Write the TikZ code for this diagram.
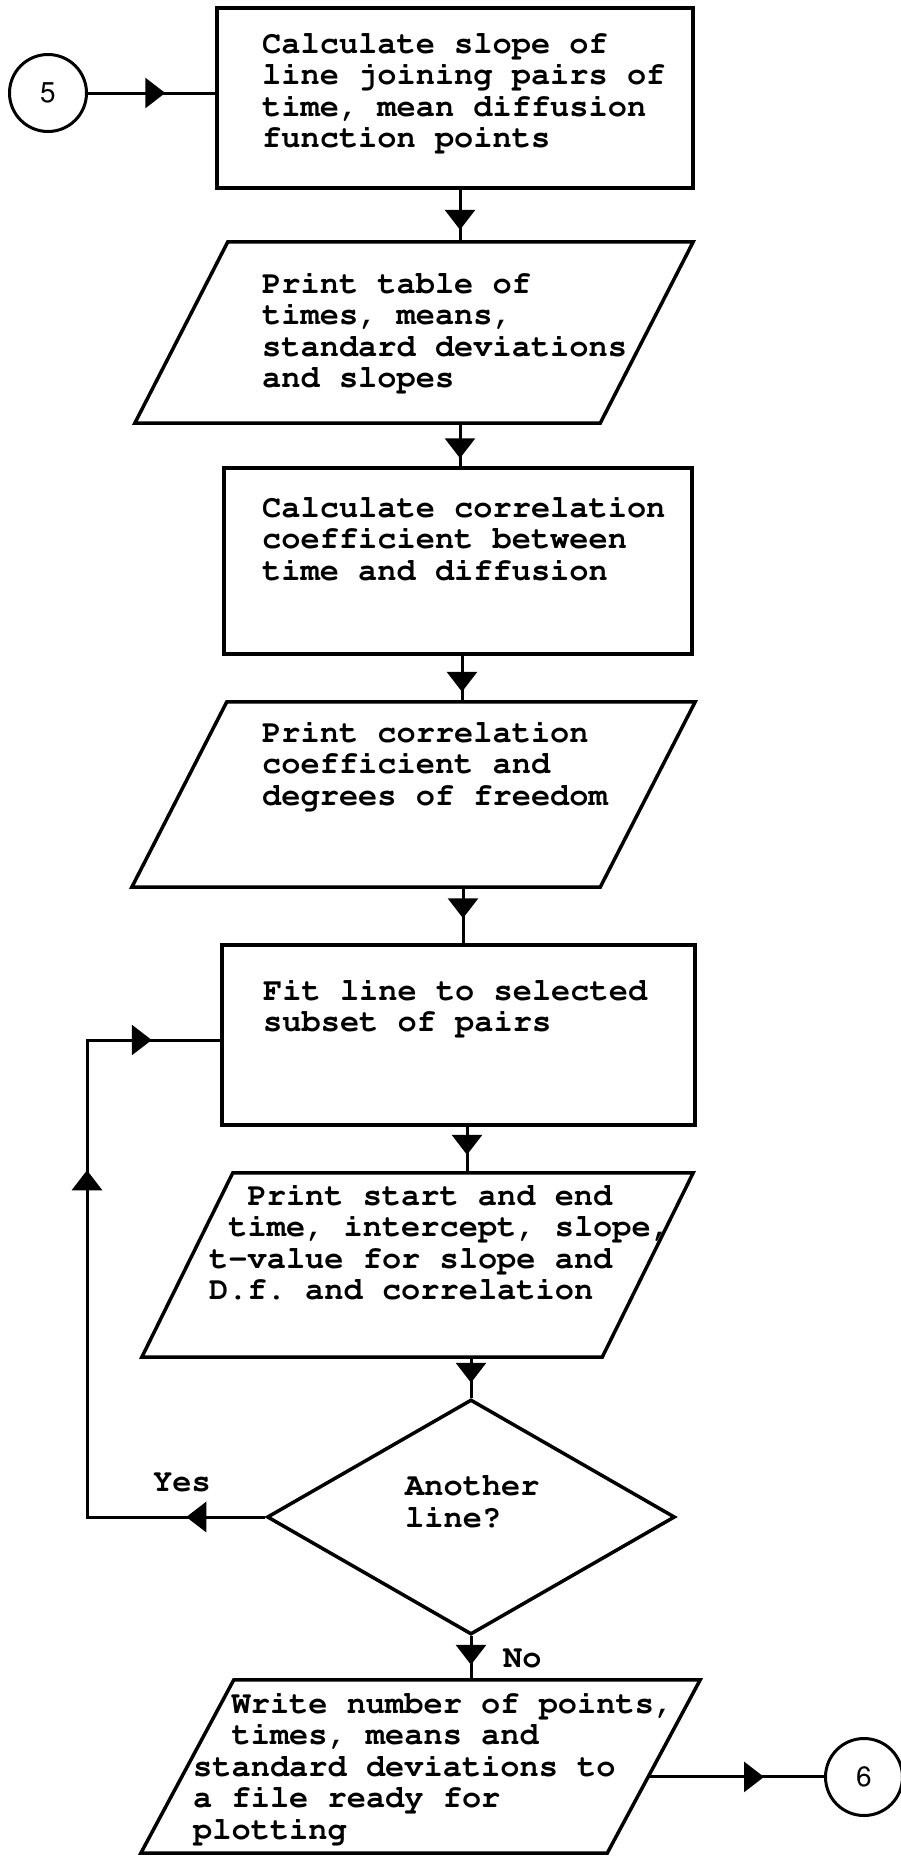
\documentclass[tikz,border=0pt]{standalone}
\usepackage[T1]{fontenc}
\usepackage{courier}
\usepackage{helvet}
\usetikzlibrary{shapes.geometric,arrows.meta,decorations.markings,calc}

% parallelogram (input/output) drawn inside an invisible bounding node
\newcommand{\ioshape}[2]{%
  \coordinate (#1-tl) at ($(#1.north west)+(#2,0)$);
  \coordinate (#1-tr) at (#1.north east);
  \coordinate (#1-br) at ($(#1.south east)-(#2,0)$);
  \coordinate (#1-bl) at (#1.south west);
  \draw[outline] (#1-tl) -- (#1-tr) -- (#1-br) -- (#1-bl) -- cycle;}
% keep the typewriter's own word space inside ragged text blocks
\newcommand{\fixedspaces}{\frenchspacing\spaceskip=0pt\xspaceskip=0pt\relax}

\begin{document}
\begin{tikzpicture}[x=1pt,y=-1pt,
  outline/.style={draw, line width=3.5pt, inner sep=0pt},
  procbox/.style={outline, rectangle},
  iobound/.style={rectangle, draw=none, inner sep=0pt},
  decision/.style={outline, diamond, minimum width=408pt, minimum height=235pt},
  offpage/.style={draw, circle, line width=3pt, inner sep=0pt, minimum size=77pt,
                  font=\sffamily\fontsize{28}{28}\selectfont},
  steptext/.style={font=\ttfamily\bfseries\fontsize{32}{31.5}\selectfont,
                   text width=640pt, align=left, inner sep=0pt, anchor=base west},
  answer/.style={font=\ttfamily\bfseries\fontsize{32}{31.5}\selectfont, inner sep=0pt, anchor=base west},
  link/.style={line width=3pt},
  headat/.style={postaction={decorate}, decoration={markings,
     mark=at position #1 with {\arrow{Triangle[width=30pt,length=20pt]}}}},
]
\path[use as bounding box, fill=white] (0,0) rectangle (900,1856);

% off-page connectors
\node[offpage] (c5) at (48,93) {5};
\node[offpage] (c6) at (864,1777) {6};

% process boxes
\node[procbox, minimum width=476pt, minimum height=180pt] (box1) at (455,98) {};
\node[procbox, minimum width=468pt, minimum height=186pt] (box2) at (458,561) {};
\node[procbox, minimum width=473pt, minimum height=180pt] (box3) at (458.5,1035) {};

% input/output parallelograms
\node[iobound, minimum width=558pt, minimum height=181pt] (para1) at (414,332.5) {};
\ioshape{para1}{93}
\node[iobound, minimum width=563pt, minimum height=185pt] (para2) at (413.5,794.5) {};
\ioshape{para2}{95}
\node[iobound, minimum width=551pt, minimum height=184pt] (para3) at (417.5,1265) {};
\ioshape{para3}{91}
\node[iobound, minimum width=559pt, minimum height=173pt] (para4) at (420.5,1766.5) {};
\ioshape{para4}{93}

% decision
\node[decision] (q) at (471,1517) {};

% texts
\node[steptext] (t1) at (262,53) {\fixedspaces Calculate slope of\\line joining pairs of\\time, mean diffusion\\function points};
\node[steptext] (t2) at (262,293) {\fixedspaces Print table of\\times, means,\\standard deviations\\and slopes};
\node[steptext] (t3) at (262,517) {\fixedspaces Calculate correlation\\coefficient between\\time and diffusion};
\node[steptext] (t4) at (262,742) {\fixedspaces Print correlation\\coefficient and\\degrees of freedom};
\node[steptext] (t5) at (263,1000) {\fixedspaces Fit line to selected\\subset of pairs};
\node[steptext] (t6) at (209,1205) {\fixedspaces\phantom{xx}Print start and end\\\phantom{x}time, intercept, slope,\\t-value for slope and\\D.f. and correlation};
\node[steptext] (t8) at (193,1713) {\fixedspaces\phantom{xx}Write number of points,\\\phantom{xx}times, means and\\standard deviations to\\a file ready for\\plotting};
\node[answer, align=left] (t7) at (405,1527) {Another\\line?};
\node[answer] (yes) at (153,1491) {Yes};
\node[answer] (no) at (503,1667) {No};

% flow lines
\draw[link, headat=-50pt] (c5.east) -- (c5.east -| box1.west);
\draw[link, headat=-12pt] (box1.south -| 460,0) -- (para1.north -| 460,0);
\draw[link, headat=-8pt] (para1.south -| 460,0) -- (box2.north -| 460,0);
\draw[link, headat=-10pt] (box2.south -| 462,0) -- (para2.north -| 462,0);
\draw[link, headat=-25pt] (para2.south -| 463,0) -- (box3.north -| 463,0);
\draw[link, headat=-18pt] (box3.south -| 467,0) -- (para3.north -| 467,0);
\draw[link, headat=-15pt] (para3.south -| q.north) -- (q.north);
\draw[link, headat=-15pt] (q.south) -- (para4.north -| q.south);
\coordinate (out6) at ($(para4-tr)!0.56!(para4-br)$);
\draw[link, headat=-60pt] (out6) -- (out6 -| c6.west);

% "Yes" loop back to the fitting step
\coordinate (loopcorner) at (87,1040);
\draw[link, postaction={decorate}, decoration={markings,
    mark=at position 79pt with {\arrow{Triangle[width=30pt,length=20pt]}},
    mark=at position 525pt with {\arrow{Triangle[width=30pt,length=20pt]}},
    mark=at position 720pt with {\arrow{Triangle[width=30pt,length=20pt]}}}]
  (q.west) -| (loopcorner) -- (loopcorner -| box3.west);
\end{tikzpicture}
\end{document}
